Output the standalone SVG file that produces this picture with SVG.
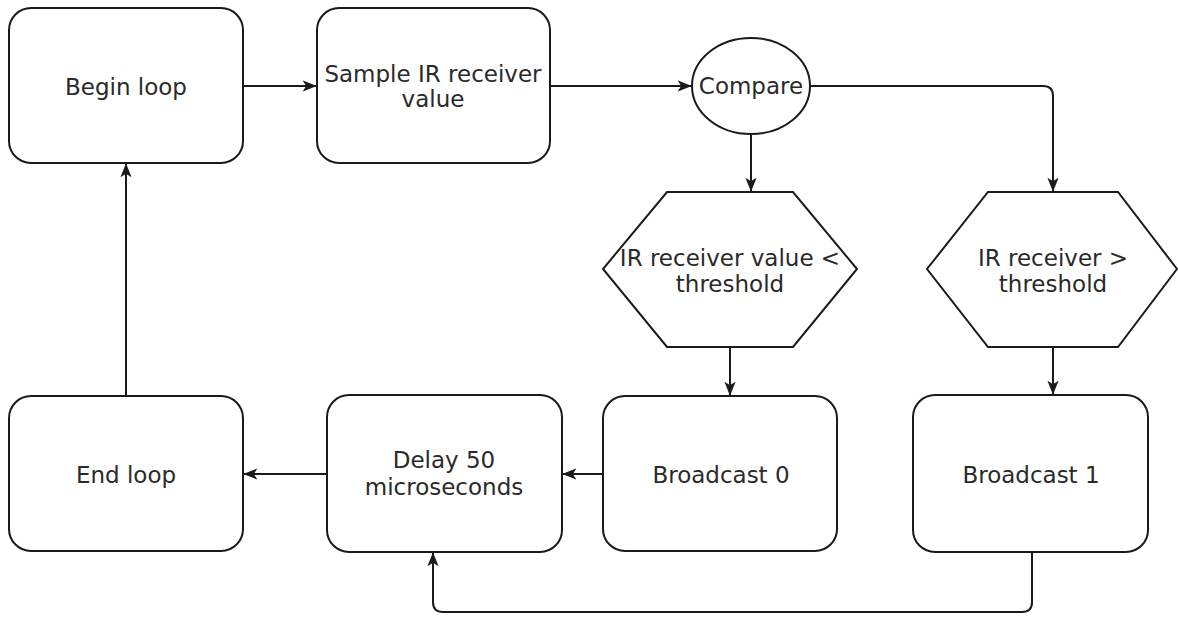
<svg xmlns="http://www.w3.org/2000/svg" width="1178" height="617" viewBox="0 0 1178 617">
<style>
.n{fill:#fff;stroke:#1a1a1a;stroke-width:2}
.t{font-family:"DejaVu Sans","Verdana",sans-serif;font-size:23px;fill:#2a2a2a;text-anchor:middle}
.c{fill:none;stroke:#1a1a1a;stroke-width:2}
</style>
<defs>
<marker id="ah" viewBox="0 0 10 10" refX="9.5" refY="5" markerWidth="14" markerHeight="14" markerUnits="userSpaceOnUse" orient="auto">
<path d="M0,1 L10,5 L0,9 L2.5,5 z" fill="#1a1a1a"/>
</marker>
</defs>
<rect width="1178" height="617" fill="#fff"/>
<g id="connectors">
<path class="c" d="M243,86 H316" marker-end="url(#ah)"/>
<path class="c" d="M550,86 H691" marker-end="url(#ah)"/>
<path class="c" d="M810,86 H1043 Q1053,86 1053,96 V191" marker-end="url(#ah)"/>
<path class="c" d="M751,134 V191" marker-end="url(#ah)"/>
<path class="c" d="M730,347 V395" marker-end="url(#ah)"/>
<path class="c" d="M1053,347 V394" marker-end="url(#ah)"/>
<path class="c" d="M603,474 H563" marker-end="url(#ah)"/>
<path class="c" d="M327,474 H244" marker-end="url(#ah)"/>
<path class="c" d="M126,396 V164" marker-end="url(#ah)"/>
<path class="c" d="M1032,552 V602 Q1032,612 1022,612 H443 Q433,612 433,602 V553" marker-end="url(#ah)"/>
</g>
<g id="begin"><rect class="n" x="9" y="8" width="234" height="155" rx="22"/><text class="t" x="126" y="95">Begin loop</text></g>
<g id="sample"><rect class="n" x="317" y="8" width="233" height="155" rx="22"/><text class="t" x="433" y="82">Sample IR receiver</text><text class="t" x="433" y="107">value</text></g>
<g id="compare"><ellipse class="n" cx="751" cy="86" rx="59" ry="48"/><text class="t" x="751" y="94">Compare</text></g>
<g id="lt"><polygon class="n" points="667,192 793,192 857,269 793,347 667,347 603,269"/><text class="t" x="730" y="266">IR receiver value &lt;</text><text class="t" x="730" y="292">threshold</text></g>
<g id="gt"><polygon class="n" points="988,192 1118,192 1177,269 1118,347 988,347 927,269"/><text class="t" x="1053" y="266">IR receiver &gt;</text><text class="t" x="1053" y="292">threshold</text></g>
<g id="end"><rect class="n" x="9" y="396" width="234" height="155" rx="22"/><text class="t" x="126" y="483">End loop</text></g>
<g id="delay"><rect class="n" x="327" y="395" width="235" height="157" rx="22"/><text class="t" x="444" y="468">Delay 50</text><text class="t" x="444" y="495">microseconds</text></g>
<g id="b0"><rect class="n" x="603" y="396" width="234" height="155" rx="22"/><text class="t" x="721" y="483">Broadcast 0</text></g>
<g id="b1"><rect class="n" x="913" y="395" width="235" height="157" rx="22"/><text class="t" x="1031" y="483">Broadcast 1</text></g>
</svg>
